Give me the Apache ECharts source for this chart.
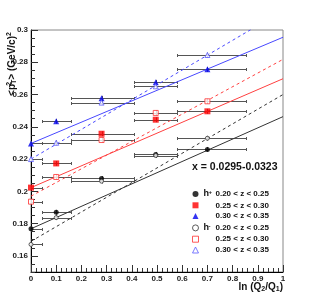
<!DOCTYPE html>
<html><head><meta charset="utf-8">
<script src="https://cdn.jsdelivr.net/npm/echarts@6/dist/echarts.min.js"></script>
<style>html,body{margin:0;padding:0;background:#fff;}#c{width:315px;height:302px;}</style>
</head><body><div id="c"></div>
<script>
// ---- data ----
const xVals  = [0, 0.1, 0.28, 0.495, 0.70];
const xLow   = [-0.044, 0.044, 0.157, 0.409, 0.58];
const xHigh  = [0.044, 0.157, 0.409, 0.58, 0.853];
const yErr   = [0.0015, 0.0015, 0.0015, 0.0015, 0.0015];

const hPlusZ1  = [0.1768, 0.1870, 0.2080, 0.2229, 0.2260];
const hPlusZ2  = [0.2023, 0.2173, 0.2357, 0.2444, 0.2496];
const hPlusZ3  = [0.2297, 0.2434, 0.2577, 0.2676, 0.2756];
const hMinusZ1 = [0.1671, 0.1837, 0.2063, 0.2222, 0.2329];
const hMinusZ2 = [0.1936, 0.2089, 0.2318, 0.2486, 0.2558];
const hMinusZ3 = [0.2200, 0.2301, 0.2550, 0.2651, 0.2845];

const seriesNames = ['h+ 0.20 < z < 0.25','h+ 0.25 < z < 0.30','h+ 0.30 < z < 0.35',
                     'h- 0.20 < z < 0.25','h- 0.25 < z < 0.30','h- 0.30 < z < 0.35'];
const fitIntercept = [0.1768, 0.2023, 0.2297, 0.1690, 0.1970, 0.2200];
const fitSlope     = [0.0695, 0.0675, 0.0658, 0.0910, 0.0848, 0.0920];

const yTickLabels = [0.16, 0.18, 0.20, 0.22, 0.24, 0.26, 0.28, 0.30];
const xRangeText = 'x = 0.0295-0.0323';

// ---- styles ----
const allData = [hPlusZ1, hPlusZ2, hPlusZ3, hMinusZ1, hMinusZ2, hMinusZ3];
const symbols = ['circle','rect','triangle','circle','rect','triangle'];
const symSizes = [5, 6, 6, 5, 6, 6];
const markColors = ['#000000','#ff0000','#0000ee','#333333','#ff3030','#5a5aff'];
const lineColors = ['#333333','#ff4040','#4848ff','#333333','#ff4040','#4848ff'];

const chart = echarts.init(document.getElementById('c'), null, {renderer:'canvas'});
const FONT = 'Liberation Sans';

function errRender(params, api){
  const x = api.value(0), y = api.value(1), xl = api.value(2), xh = api.value(3), ye = api.value(4);
  const pL = api.coord([xl, y]), pR = api.coord([xh, y]);
  const pT = api.coord([x, y + ye]), pB = api.coord([x, y - ye]);
  const yy = Math.round(pL[1]) + 0.5;
  const xl0 = Math.round(pL[0]) + 0.5, xr0 = Math.round(pR[0]) + 0.5, xc = Math.round(pT[0]) + 0.5;
  const st = {stroke:'#555', lineWidth:1};
  return {type:'group', children:[
    {type:'line', shape:{x1:xl0, y1:yy, x2:xr0, y2:yy}, style:st},
    {type:'line', shape:{x1:xl0, y1:yy-1.5, x2:xl0, y2:yy+1.5}, style:st},
    {type:'line', shape:{x1:xr0, y1:yy-1.5, x2:xr0, y2:yy+1.5}, style:st},
    {type:'line', shape:{x1:xc, y1:pT[1], x2:xc, y2:pB[1]}, style:st}
  ]};
}

const series = [];
allData.forEach((d, i) => {
  series.push({
    type:'custom', renderItem: errRender, clip:true, z:2, silent:true,
    data: d.map((v, k) => [xVals[k], v, xLow[k], xHigh[k], yErr[k]])
  });
});
allData.forEach((d, i) => {
  series.push({
    type:'line', z:3, silent:true, symbol:'none', clip:true,
    lineStyle:{color:lineColors[i], width:1, type: i < 3 ? 'solid' : [3,3]},
    data: [[0, fitIntercept[i]], [1, fitIntercept[i] + fitSlope[i]]]
  });
});
allData.forEach((d, i) => {
  series.push({
    name: seriesNames[i], type:'scatter', z:5, symbol: symbols[i], symbolSize: i < 3 ? symSizes[i] : symSizes[i] - 1,
    itemStyle: i < 3 ? {color: markColors[i]} : {color: '#ffffff', borderColor: markColors[i], borderWidth:1},
    data: d.map((v, k) => [xVals[k], v])
  });
});

const legendRich = {
  h:{fontFamily:FONT, fontWeight:'bold', fontSize:9, color:'#111', width:5, lineHeight:10},
  s:{fontFamily:FONT, fontWeight:'bold', fontSize:6, color:'#111', width:7, lineHeight:4, verticalAlign:'top'},
  pad:{fontFamily:FONT, fontSize:8, width:12, lineHeight:10},
  b:{fontFamily:FONT, fontWeight:'bold', fontSize:8, color:'#111', lineHeight:10}
};

chart.setOption({
  animation:false,
  grid:{left:31, right:32, top:30, bottom:30, show:true, borderColor:'#888', borderWidth:1},
  xAxis:[{
    type:'value', min:0, max:1, interval:0.1,
    axisLine:{lineStyle:{color:'#000', width:1}},
    axisTick:{inside:true, length:7, lineStyle:{color:'#333'}},
    minorTick:{show:true, splitNumber:5, length:4, lineStyle:{color:'#333'}},
    splitLine:{show:false}, minorSplitLine:{show:false},
    axisLabel:{fontFamily:FONT, fontWeight:'bold', fontSize:8, color:'#222', margin:3,
      formatter: v => String(+v.toFixed(2))}
  }],
  yAxis:[{
    type:'value', min:0.15, max:0.3,
    axisLine:{show:true, lineStyle:{color:'#000', width:1}},
    axisTick:{show:true, inside:true, length:7, customValues: yTickLabels, lineStyle:{color:'#333'}},
    splitLine:{show:false},
    axisLabel:{customValues: yTickLabels, fontFamily:FONT, fontWeight:'bold', fontSize:8, color:'#222', margin:3,
      formatter: v => String(+(+v).toFixed(2))}
  },{
    type:'value', min:0.15, max:0.3, interval:0.005, position:'left',
    axisLine:{show:false}, axisLabel:{show:false}, splitLine:{show:false},
    axisTick:{show:true, inside:true, length:4, lineStyle:{color:'#333'}}
  }],
  legend:{
    orient:'vertical', left:192, top:189, padding:0, itemWidth:6, itemHeight:6, itemGap:2.8,
    selectedMode:false,
    data: seriesNames.map((n, i) => i < 3 ? {name:n} :
      {name:n, itemStyle:{color:'#ffffff', borderColor:markColors[i], borderWidth:1}}),
    textStyle:{rich: legendRich},
    formatter: name => {
      const i = seriesNames.indexOf(name);
      const range = name.slice(3);
      if (i === 0) return '{h|h}{s|+}{b|' + range + '}';
      if (i === 3) return '{h|h}{s|-}{b|' + range + '}';
      return '{pad| }{b|' + range + '}';
    }
  },
  graphic:[
    {type:'text', left:192, top:162, style:{text:xRangeText, fontFamily:FONT, fontWeight:'bold', fontSize:10.5, fill:'#111'}},
    {type:'text', x:283, y:287, style:{
      text:'{n|ln (Q}{d|2}{n|/Q}{d|1}{n|)}', align:'right', verticalAlign:'middle',
      rich:{n:{fontFamily:FONT, fontWeight:'bold', fontSize:10, fill:'#111', lineHeight:12},
            d:{fontFamily:FONT, fontWeight:'bold', fontSize:7, fill:'#111', lineHeight:5, verticalAlign:'bottom'}}}},
    {type:'text', x:12, y:64, rotation:Math.PI/2, style:{
      text:'{n|<p}{u|2}{t|T}{n|> (GeV/c)}{u2|2}', align:'center', verticalAlign:'middle',
      rich:{n:{fontFamily:FONT, fontWeight:'bold', fontSize:10, fill:'#111', lineHeight:12},
            u:{fontFamily:FONT, fontWeight:'bold', fontSize:7, fill:'#111', lineHeight:5, verticalAlign:'top', width:0.01},
            t:{fontFamily:FONT, fontWeight:'bold', fontSize:7, fill:'#111', lineHeight:5, verticalAlign:'bottom'},
            u2:{fontFamily:FONT, fontWeight:'bold', fontSize:7, fill:'#111', lineHeight:5, verticalAlign:'top'}}}}
  ],
  series: series
});
</script></body></html>
